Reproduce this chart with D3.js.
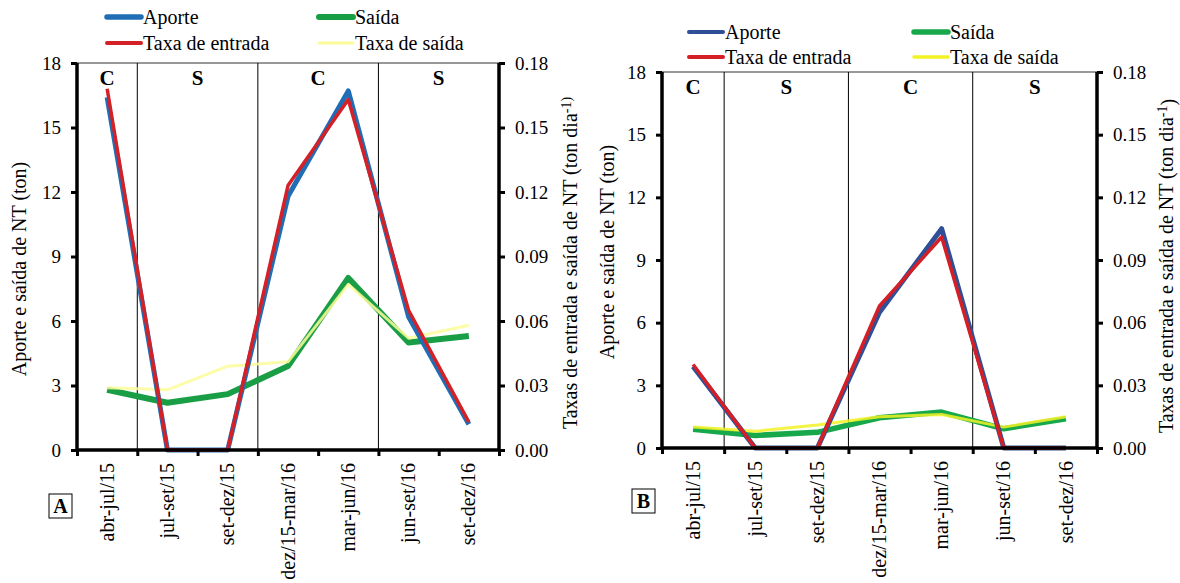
<!DOCTYPE html>
<html>
<head>
<meta charset="utf-8">
<script src="https://cdn.jsdelivr.net/npm/d3@7"></script>
</head>
<body style="margin:0;background:#fff">
<svg id="chart" width="1180" height="583" style="display:block"></svg>
<script>
// ---------- DATA ----------
const categories = ["abr-jul/15", "jul-set/15", "set-dez/15", "dez/15-mar/16", "mar-jun/16", "jun-set/16", "set-dez/16"];
const seasons = ["C", "S", "C", "S"];
const seasonSpans = [[0, 1], [1, 3], [3, 5], [5, 7]];
const leftTicks = [0, 3, 6, 9, 12, 15, 18];
const rightTicks = [0, 0.03, 0.06, 0.09, 0.12, 0.15, 0.18];

// Panel A
const aporteA = [16.4, 0, 0, 11.8, 16.7, 6.2, 1.2];
const saidaA = [2.8, 2.2, 2.6, 3.9, 8.0, 5.0, 5.3];
const taxaEntradaA = [0.168, 0, 0, 0.123, 0.163, 0.065, 0.013];
const taxaSaidaA = [0.029, 0.028, 0.039, 0.041, 0.077, 0.052, 0.058];

// Panel B
const aporteB = [3.9, 0, 0, 6.5, 10.5, 0, 0];
const saidaB = [0.9, 0.6, 0.75, 1.45, 1.72, 0.92, 1.4];
const taxaEntradaB = [0.040, 0, 0, 0.068, 0.101, 0, 0];
const taxaSaidaB = [0.010, 0.008, 0.011, 0.015, 0.016, 0.010, 0.015];

const seriesNames = ["Aporte", "Saída", "Taxa de entrada", "Taxa de saída"];

// ---------- DRAW ----------
const svg = d3.select("#chart");

function txt(sel, size, bold) {
  sel.attr("font-family", "Times New Roman").style("font-family", "'Times New Roman', 'Liberation Serif', Tinos")
     .attr("font-size", size).style("font-size", size + "px");
  if (bold) sel.attr("font-weight", "bold");
  return sel;
}

function drawPanel(cfg) {
  const g = svg.append("g");
  const x = d3.scaleBand().domain(categories).range([cfg.x0, cfg.x1]);
  const xi = d3.scaleLinear().domain([0, categories.length]).range([cfg.x0, cfg.x1]);
  const yL = d3.scaleLinear().domain([0, 18]).range([cfg.yB, cfg.yT]);
  const yR = d3.scaleLinear().domain([0, 0.18]).range([cfg.yB, cfg.yT]);
  const cx = c => x(c) + x.bandwidth() / 2;

  g.append("line").attr("x1", cfg.x0).attr("x2", cfg.x1).attr("y1", cfg.yT).attr("y2", cfg.yT)
    .attr("stroke", "#333").attr("stroke-width", 1);

  [1, 3, 5].forEach(i => {
    g.append("line").attr("x1", xi(i)).attr("x2", xi(i)).attr("y1", cfg.yT).attr("y2", cfg.yB)
      .attr("stroke", "#000").attr("stroke-width", 1);
  });

  seasons.forEach((s, i) => {
    const m = (xi(seasonSpans[i][0]) + xi(seasonSpans[i][1])) / 2;
    txt(g.append("text").attr("x", m).attr("y", cfg.yT + 22).attr("text-anchor", "middle"), 21, true).text(s);
  });

  const lineL = d3.line().x((d, i) => cx(categories[i])).y(d => yL(d));
  const lineR = d3.line().x((d, i) => cx(categories[i])).y(d => yR(d));
  g.append("path").datum(cfg.saida).attr("d", lineL).attr("fill", "none")
    .attr("stroke", cfg.colors.saida).attr("stroke-width", cfg.widths.saida).attr("stroke-linejoin", "round");
  g.append("path").datum(cfg.taxaSaida).attr("d", lineR).attr("fill", "none")
    .attr("stroke", cfg.colors.taxaSaida).attr("stroke-width", cfg.widths.taxaSaida)
    .attr("stroke-opacity", 0.85).attr("stroke-linejoin", "round");
  g.append("path").datum(cfg.aporte).attr("d", lineL).attr("fill", "none")
    .attr("stroke", cfg.colors.aporte).attr("stroke-width", cfg.widths.aporte).attr("stroke-linejoin", "round");
  g.append("path").datum(cfg.taxaEntrada).attr("d", lineR).attr("fill", "none")
    .attr("stroke", cfg.colors.taxaEntrada).attr("stroke-width", cfg.widths.taxaEntrada).attr("stroke-linejoin", "round");

  const la = g.append("g").attr("transform", `translate(${cfg.x0},0)`)
    .call(d3.axisLeft(yL).tickValues(leftTicks).tickSize(6).tickPadding(10).tickFormat(d3.format("d")));
  la.attr("font-family", "Times New Roman").attr("font-size", 19);
  la.select(".domain").attr("stroke-width", 3.5).attr("d", `M0,${cfg.yT}V${cfg.yB}`);
  la.selectAll(".tick line").attr("stroke-width", 3);
  txt(la.selectAll("text"), 19);

  const ra = g.append("g").attr("transform", `translate(${cfg.x1},0)`)
    .call(d3.axisRight(yR).tickValues(rightTicks).tickSize(6).tickPadding(10).tickFormat(d3.format(".2f")));
  ra.attr("font-family", "Times New Roman").attr("font-size", 19);
  ra.select(".domain").attr("stroke-width", 3.5).attr("d", `M0,${cfg.yT}V${cfg.yB}`);
  ra.selectAll(".tick line").attr("stroke-width", 3);
  txt(ra.selectAll("text"), 19);

  const ba = g.append("g").attr("transform", `translate(0,${cfg.yB})`)
    .call(d3.axisBottom(xi).tickValues(d3.range(categories.length + 1)).tickSize(6).tickFormat(""));
  ba.select(".domain").attr("stroke-width", 3.5).attr("d", `M${cfg.x0},0H${cfg.x1}`);
  ba.selectAll(".tick line").attr("stroke-width", 3);

  const bl = g.append("g").attr("transform", `translate(0,${cfg.yB})`)
    .call(d3.axisBottom(x).tickSize(0).tickPadding(0));
  bl.attr("font-family", "Times New Roman").attr("font-size", 20);
  bl.select(".domain").remove();
  txt(bl.selectAll("text"), 20)
    .attr("text-anchor", "end").attr("transform", "rotate(-90)")
    .attr("x", -13).attr("y", 0).attr("dy", "0.33em");

  txt(g.append("text").attr("transform", `translate(${cfg.ll[0]},${cfg.ll[1]}) rotate(-90)`)
    .attr("text-anchor", "middle").attr("dy", "0.35em"), 20)
    .text("Aporte e saída de NT (ton)");
  const rt = txt(g.append("text").attr("transform", `translate(${cfg.rl[0]},${cfg.rl[1]}) rotate(-90)`)
    .attr("text-anchor", "middle").attr("dy", "0.35em"), 20);
  rt.append("tspan").text("Taxas de entrada e saída de NT (ton dia");
  if (cfg.supParen) {
    rt.append("tspan").attr("dy", "-0.4em").style("font-size", "14px").text("-1)");
  } else {
    rt.append("tspan").attr("dy", "-0.4em").style("font-size", "14px").text("-1");
    rt.append("tspan").attr("dy", "0.4em").text(")");
  }

  g.append("rect").attr("x", cfg.box[0]).attr("y", cfg.box[1]).attr("width", 23).attr("height", 24)
    .attr("fill", "#fff").attr("stroke", "#000").attr("stroke-width", 1);
  txt(g.append("text").attr("x", cfg.box[0] + 11.5).attr("y", cfg.box[1] + 19).attr("text-anchor", "middle"), 20, true)
    .text(cfg.letter);

  const items = [
    { name: seriesNames[0], c: cfg.colors.aporte, w: cfg.legW.aporte, col: 0, row: 0 },
    { name: seriesNames[1], c: cfg.colors.saida, w: cfg.legW.saida, col: 1, row: 0 },
    { name: seriesNames[2], c: cfg.colors.taxaEntrada, w: cfg.legW.taxaEntrada, col: 0, row: 1 },
    { name: seriesNames[3], c: cfg.colors.taxaSaida, w: cfg.legW.taxaSaida, col: 1, row: 1 }
  ];
  items.forEach(it => {
    const lx = cfg.leg.cols[it.col], ly = cfg.leg.rows[it.row];
    g.append("line").attr("x1", lx).attr("x2", lx + 34).attr("y1", ly).attr("y2", ly)
      .attr("stroke", it.c).attr("stroke-width", it.w).attr("stroke-linecap", "round");
    txt(g.append("text").attr("x", lx + 36).attr("y", ly).attr("dy", "0.35em"), 20).text(it.name);
  });
}

drawPanel({
  x0: 77, x1: 499, yT: 63, yB: 450,
  aporte: aporteA, saida: saidaA, taxaEntrada: taxaEntradaA, taxaSaida: taxaSaidaA,
  colors: { aporte: "#1f6db5", saida: "#1a9e45", taxaEntrada: "#d42027", taxaSaida: "#fbfb9a" },
  widths: { aporte: 5, saida: 6, taxaEntrada: 3.5, taxaSaida: 3 },
  legW: { aporte: 5.5, saida: 6, taxaEntrada: 4, taxaSaida: 3 },
  leg: { cols: [107, 319], rows: [17, 43] },
  ll: [19, 269], rl: [570, 263], supParen: true,
  box: [49, 494], letter: "A"
});

drawPanel({
  x0: 662, x1: 1097, yT: 72, yB: 448,
  aporte: aporteB, saida: saidaB, taxaEntrada: taxaEntradaB, taxaSaida: taxaSaidaB,
  colors: { aporte: "#2f4f96", saida: "#17a84b", taxaEntrada: "#d41f26", taxaSaida: "#f2f224" },
  widths: { aporte: 5, saida: 5.5, taxaEntrada: 3.5, taxaSaida: 3 },
  legW: { aporte: 4, saida: 5.5, taxaEntrada: 4, taxaSaida: 3.5 },
  leg: { cols: [689, 914], rows: [32, 57] },
  ll: [607, 252], rl: [1166, 266], supParen: false,
  box: [632, 489], letter: "B"
});
</script>
</body>
</html>
